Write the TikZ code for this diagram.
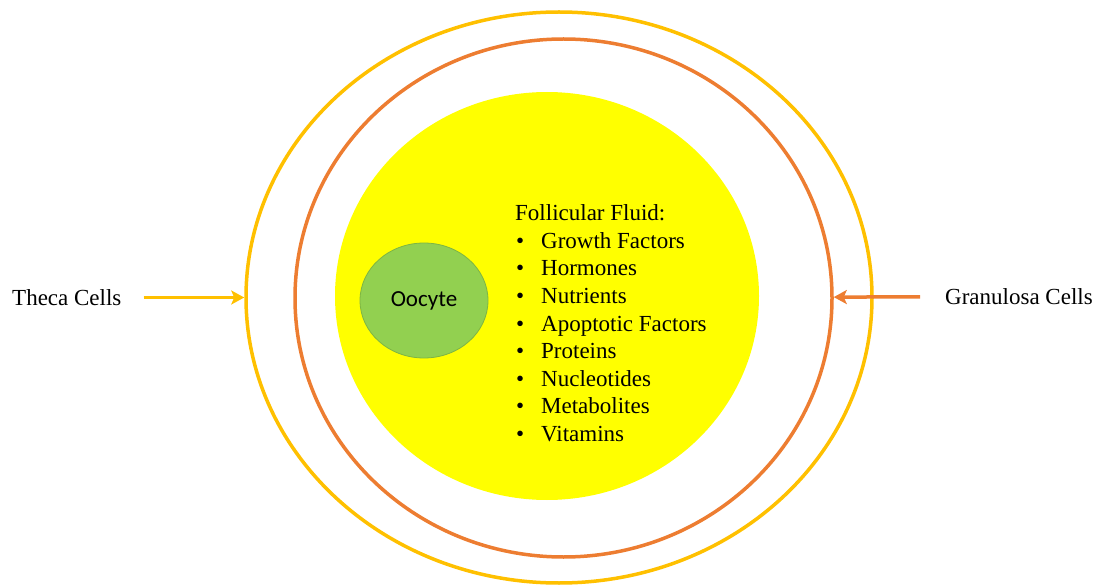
\documentclass[tikz,border=0pt]{standalone}
\usepackage{fontspec}
\setmainfont{Liberation Serif}
\newfontfamily\oocytefont{Carlito}
\usepackage{xcolor}
\usetikzlibrary{arrows.meta,positioning,shapes.geometric}

\definecolor{thecaring}{HTML}{FFC000}
\definecolor{granring}{HTML}{ED7D31}
\definecolor{fluidfill}{HTML}{FFFF00}
\definecolor{oocytefill}{HTML}{92D050}
\definecolor{oocyteedge}{HTML}{7DB543}

\newcommand{\fluiditem}{\makebox[26pt][l]{\hspace{1pt}\textbullet}}

\begin{document}
\begin{tikzpicture}[x=1pt, y=-1pt, font=\fontsize{23}{27.6}\selectfont,
        ring/.style={draw, ellipse, line width=3.5pt, inner sep=0pt},
        celllabel/.style={inner sep=0pt},
        cellarrow/.style={-{Stealth[length=13pt, width=14pt, inset=3pt]}, line width=3.5pt}]
        \useasboundingbox (0,0) rectangle (1101,588);

        % follicle layers
        \node[ring, draw=thecaring, minimum width=626pt, minimum height=571pt] (theca) at (559,297.5) {};
        \node[ring, draw=granring, minimum width=537pt, minimum height=518pt] (gran) at (563.5,298) {};
        \node[ellipse, fill=fluidfill, inner sep=0pt, minimum width=424pt, minimum height=408pt] (fluid) at (547,296) {};
        \node[ellipse, fill=oocytefill, draw=oocyteedge, line width=0.8pt, inner sep=0pt, minimum width=128pt, minimum height=115pt, font=\oocytefont\fontsize{23}{27.6}\selectfont] (oocyte) at (424,300.5) {Oocyte};

        % contents of the fluid
        \node[celllabel, anchor=north west, align=left] (fluidtext) at (515,204.5) {Follicular Fluid:\\
            \fluiditem Growth Factors\\
            \fluiditem Hormones\\
            \fluiditem Nutrients\\
            \fluiditem Apoptotic Factors\\
            \fluiditem Proteins\\
            \fluiditem Nucleotides\\
            \fluiditem Metabolites\\
            \fluiditem Vitamins};

        % cell labels
        \node[celllabel, anchor=west] (thecalabel) at (12,297.5) {Theca Cells};
        \node[celllabel, anchor=west] (granlabel) at (945,296.5) {Granulosa Cells};

        \draw[cellarrow, draw=thecaring, fill=thecaring, shorten <=22pt] (thecalabel) -- (theca);
        \draw[cellarrow, draw=granring, fill=granring, shorten <=25pt] (granlabel) -- (gran);
    \end{tikzpicture}
\end{document}
